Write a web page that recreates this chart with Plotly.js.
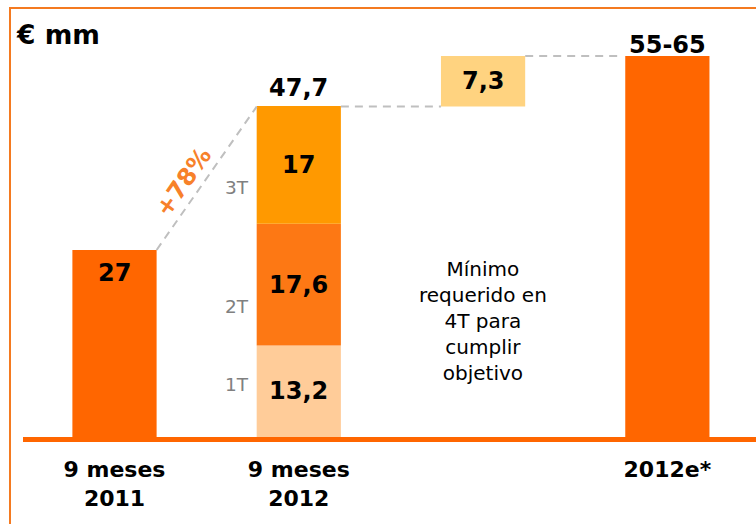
<!DOCTYPE html>
<html>
<head>
<meta charset="utf-8">
<script src="https://cdn.plot.ly/plotly-3.0.1.min.js"></script>
<style>
  html, body { margin: 0; padding: 0; background: #fff; }
  #chart { position: absolute; left: 0; top: 0; width: 756px; height: 524px; }
  #frame { position: absolute; left: 9px; top: 7px; width: 760px; height: 530px;
           border-left: 2px solid #F47A20; border-top: 2px solid #F47A20; pointer-events: none; }
</style>
</head>
<body>
<div id="chart"></div>
<div id="frame"></div>
<script>
// ---- data ----
const categories = ['9 meses<br>2011', '9 meses<br>2012', '', '2012e*'];
const value2011 = 27;
const quarterNames = ['1T', '2T', '3T'];
const quarterValues = [13.2, 17.6, 17];
const total2012 = 47.7;
const minRequired4T = 7.3;
const target2012 = 55;
const targetLabel = '55-65';
const growthLabel = '+78%';
const noteText = 'Mínimo<br>requerido en<br>4T para<br>cumplir<br>objetivo';
const unitLabel = '€ mm';

// ---- helpers ----
const fmt = v => String(v).replace('.', ',');
const xs = categories.map((c, i) => i);
const W = 0.457;
const FONT = 'DejaVu Sans, Verdana, sans-serif';
const quarterColors = ['#FFCC99', '#FD7814', '#FF9900'];

// cumulative bases of quarters
const qBase = [];
quarterValues.reduce((acc, v, i) => { qBase[i] = acc; return acc + v; }, 0);

const traces = [];
traces.push({
  type: 'bar', x: [xs[0], xs[3]], y: [value2011, target2012], base: [0, 0], width: W,
  marker: { color: '#FF6600', line: { width: 0 } }, hoverinfo: 'skip'
});
quarterValues.forEach((v, i) => {
  traces.push({
    type: 'bar', x: [xs[1]], y: [v], base: [qBase[i]], width: W,
    marker: { color: quarterColors[i], line: { width: 0 } }, hoverinfo: 'skip'
  });
});
traces.push({
  type: 'bar', x: [xs[2]], y: [minRequired4T], base: [total2012], width: W,
  marker: { color: '#FFD380', line: { width: 0 } }, hoverinfo: 'skip'
});

const lbl = { family: FONT, size: 24, color: '#000', weight: 'bold' };
const annotations = [];
// value labels
annotations.push({ x: xs[0], y: value2011, yanchor: 'top', yshift: -7, text: fmt(value2011), showarrow: false, font: lbl });
quarterValues.forEach((v, i) => {
  annotations.push({ x: xs[1], y: qBase[i] + v / 2, yanchor: 'middle', text: fmt(v), showarrow: false, font: lbl });
});
annotations.push({ x: xs[1], y: total2012, yanchor: 'bottom', yshift: 3, text: fmt(total2012), showarrow: false, font: lbl });
annotations.push({ x: xs[2], y: total2012 + minRequired4T / 2, yanchor: 'middle', text: fmt(minRequired4T), showarrow: false, font: lbl });
annotations.push({ x: xs[3], y: target2012, yanchor: 'bottom', yshift: -5, text: targetLabel, showarrow: false, font: lbl });
// quarter labels
const qFrac = [0.57, 0.32, 0.31];
quarterNames.forEach((n, i) => {
  annotations.push({ x: xs[1] - W / 2, y: qBase[i] + quarterValues[i] * qFrac[i], xanchor: 'right', yanchor: 'middle', xshift: -6,
    text: n, showarrow: false, font: { family: FONT, size: 18.5, color: '#808080' } });
});
// growth label
annotations.push({ x: (xs[0] + W / 2 + xs[1] - W / 2) / 2, y: (value2011 + total2012) / 2, xshift: -23, yshift: -4,
  text: growthLabel, textangle: -55, showarrow: false, font: { family: FONT, size: 24, color: '#F7812A', weight: 'bold' } });
// note
annotations.push({ x: xs[2], y: 16.75, yanchor: 'middle', text: noteText, showarrow: false,
  font: { family: FONT, size: 20, color: '#000' } });

const dash = { color: '#BFBFBF', width: 2, dash: '8px,6px' };
const shapes = [
  { type: 'line', xref: 'x', yref: 'y', x0: xs[0] + W / 2, y0: value2011, x1: xs[1] - W / 2, y1: total2012, line: dash },
  { type: 'line', xref: 'x', yref: 'y', x0: xs[1] + W / 2, y0: total2012, x1: xs[2] - W / 2, y1: total2012, line: dash },
  { type: 'line', xref: 'x', yref: 'y', x0: xs[2] + W / 2, y0: target2012, x1: xs[3] - W / 2 - 0.03, y1: target2012, line: dash }
];

const layout = {
  width: 756, height: 524,
  margin: { l: 23, r: 0, t: 20, b: 87 },
  paper_bgcolor: '#fff', plot_bgcolor: '#fff',
  barmode: 'overlay', showlegend: false,
  title: { text: unitLabel, x: 17 / 756, xanchor: 'left', xref: 'container', y: 1 - 35 / 524, yanchor: 'middle', yref: 'container',
    font: { family: FONT, size: 26.5, color: '#000', weight: 'bold' } },
  xaxis: {
    range: [-0.4965, 3.481], tickvals: xs, ticktext: categories, ticks: '', showgrid: false, zeroline: false,
    showline: true, linecolor: '#FF6600', linewidth: 5,
    tickfont: { family: FONT, size: 22, color: '#000', weight: 'bold' }, ticklabelstandoff: 9
  },
  yaxis: { range: [0, 60.2], visible: false, showgrid: false, zeroline: false },
  annotations: annotations, shapes: shapes
};

Plotly.newPlot('chart', traces, layout, { displayModeBar: false, staticPlot: true });
</script>
</body>
</html>
